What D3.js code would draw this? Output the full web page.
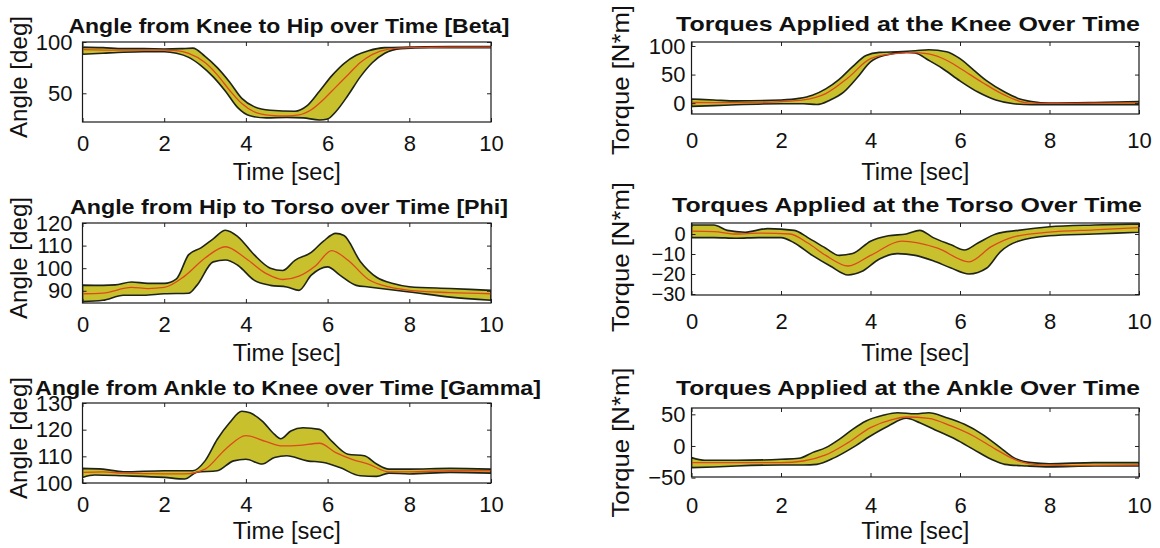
<!DOCTYPE html>
<html>
<head>
<meta charset="utf-8">
<script src="https://cdn.jsdelivr.net/npm/d3@7"></script>
<style>
  body { margin: 0; background: #fff; }
  svg { display: block; }
  text { font-family: "Liberation Sans", Arial, Helvetica, sans-serif; fill: #111; }
</style>
</head>
<body>
<svg id="chart" width="1160" height="548"></svg>
<script>
// ---- data: [time (s), value] pairs for each envelope and mean curve ----
const timeTicks = [0, 2, 4, 6, 8, 10];

// Beta: knee-to-hip angle [deg]
const betaUpper = [[0,95],[0.5,94.5],[1,93.5],[1.5,93.5],[2,93.2],[2.4,93.5],[2.7,94],[3,86],[3.3,75],[3.6,61],[3.9,45],[4.2,37],[4.6,33.5],[5.2,32.5],[5.5,38],[5.8,52],[6.1,67],[6.4,79],[6.7,87],[7,91.5],[7.4,94.5],[8,95],[9,95.5],[10,95.5]];
const betaMean  = [[0,92.5],[1,92],[2,92],[2.3,91.5],[2.6,89],[3,80],[3.3,68],[3.6,53],[3.9,40],[4.2,32],[4.6,28.5],[5,28],[5.3,29],[5.6,34],[5.9,44],[6.2,56],[6.5,68],[6.8,80],[7.1,88],[7.5,93],[8,94.5],[9,95],[10,95]];
const betaLower = [[0,88],[0.5,89],[1,90],[1.5,90.5],[2,90.5],[2.3,89],[2.6,85],[2.9,77],[3.2,66],[3.5,52],[3.8,36],[4.1,28],[4.5,26],[5,26.5],[5.4,26],[5.8,24],[6,25],[6.2,32],[6.5,48],[6.8,66],[7.1,80],[7.4,89],[7.8,93.5],[8.5,94.5],[10,94.5]];

// Phi: hip-to-torso angle [deg]
const phiUpper = [[0,92.5],[0.5,92.4],[0.8,92.6],[1.2,93.9],[1.6,93.3],[2,93.3],[2.3,95.3],[2.6,106],[2.9,109],[3.2,113],[3.5,116.8],[3.8,114],[4.2,106],[4.6,100],[4.9,99],[5.2,103.5],[5.6,107],[5.9,112],[6.2,115.4],[6.4,114.5],[6.8,103],[7.2,96],[7.6,93.2],[8,91.8],[9,91],[10,90.2]];
const phiMean  = [[0,88.7],[0.5,89],[1.2,91.5],[1.6,91],[2,91.5],[2.5,96.5],[3,104.5],[3.5,109.5],[4,104.3],[4.5,97.6],[4.9,95],[5.3,96.5],[5.7,101],[6.1,107.8],[6.5,103.5],[7,95],[7.5,91.7],[8,90.2],[9,89.2],[10,88.7]];
const phiLower = [[0,85.2],[0.5,85.8],[1,88],[1.5,88],[2,88.7],[2.6,88.9],[2.8,92.4],[3.2,102.8],[3.5,103.6],[3.8,101.3],[4.2,94.7],[4.6,92.4],[5,91.7],[5.3,90.2],[5.6,96.9],[6,100.6],[6.3,96.9],[6.7,92.4],[7,91.7],[8,89.5],[9,87.2],[10,85.8]];

// Gamma: ankle-to-knee angle [deg]
const gammaUpper = [[0,105.5],[0.5,105.2],[1,104.2],[2,104.6],[2.7,104.6],[3,108.3],[3.3,116.4],[3.6,122.6],[3.9,126.9],[4.1,126.3],[4.4,123.2],[4.7,118.2],[4.85,116.6],[5.1,119.5],[5.4,120.7],[5.8,120.1],[6.1,115.7],[6.5,110.8],[6.9,110.2],[7.2,107.1],[7.5,105.2],[8,105.2],[9,105.5],[10,105.2]];
const gammaMean  = [[0,104],[0.5,104.2],[1,103.7],[2,103.4],[2.5,103.4],[3,105.2],[3.5,112.7],[4,117.8],[4.5,115.5],[4.9,113.9],[5.3,114.1],[5.8,114.9],[6.2,111.4],[6.6,108.9],[7,107.1],[7.5,104.2],[8,104.2],[9,104.6],[10,104.6]];
const gammaLower = [[0,102.1],[0.3,103],[1,102.7],[2,102.1],[2.5,101.5],[2.8,104],[3.3,104.6],[3.7,108.3],[4,108.9],[4.4,107.1],[4.7,109.6],[5,110.2],[5.5,108.3],[5.9,107.7],[6.3,105.8],[6.8,102.7],[7.2,102.5],[7.5,103.7],[8,103.4],[9,104],[10,103.7]];

// Knee torque [N*m]
const kneeUpper = [[0,7.2],[0.5,5.5],[1,3.9],[2,5.6],[2.4,8.3],[2.7,13.9],[3,25],[3.3,41.7],[3.6,63.9],[3.9,83.3],[4.2,88.9],[4.6,90],[5,91.7],[5.3,93.5],[5.7,90],[6,77.8],[6.3,58.3],[6.6,38.9],[7,19.4],[7.3,8.3],[7.6,2.8],[8,0],[9,1],[10,2.8]];
const kneeMean  = [[0,1.1],[1,1],[2,2.8],[2.5,5.6],[3,16.7],[3.5,44.4],[4,77.8],[4.5,86.1],[4.9,88.9],[5.3,86.1],[5.7,75],[6,61.1],[6.5,36.1],[7,13.9],[7.5,0.5],[8,-0.5],[9,0],[10,0]];
const kneeLower = [[0,-5.6],[0.5,-4.4],[1,-2.8],[2,-1],[2.5,-1],[2.8,-2.5],[3.1,5.6],[3.4,19.4],[3.7,44.4],[4,72.2],[4.3,83.3],[4.8,88.9],[5,87.8],[5.3,75],[5.6,61.1],[6,38.9],[6.4,19.4],[6.8,5.6],[7.2,-1],[7.6,-2.8],[8,-2.8],[10,-2.8]];

// Torso torque [N*m]
const torsoUpper = [[0,4.5],[0.5,4.5],[0.8,1.8],[1.2,0.9],[1.7,2.7],[2.3,1.8],[2.6,-1.8],[3,-7.1],[3.3,-10.7],[3.6,-9.8],[4,-3.6],[4.4,-0.9],[4.8,0],[5.1,1.8],[5.4,-1.8],[5.8,-5.4],[6.1,-8],[6.4,-4.5],[6.8,0],[7.3,1.8],[8,3.6],[9,4.5],[10,5]];
const torsoMean  = [[0,1.4],[0.5,1.2],[1,0],[1.5,0.4],[2.2,0],[2.6,-4.5],[3,-10.7],[3.5,-16],[4,-10.7],[4.7,-3.6],[5.5,-7.1],[6.2,-13.9],[6.7,-6.3],[7.2,-1.4],[8,0.9],[9,2.1],[10,3.2]];
const torsoLower = [[0,-1.8],[0.5,-1.8],[1,-2.1],[1.5,-1.8],[2,-1.8],[2.3,-4.5],[2.7,-10.7],[3.1,-16],[3.5,-20.5],[3.8,-18.8],[4.2,-12.5],[4.6,-9.8],[5,-10.7],[5.4,-13.4],[5.8,-17],[6.2,-20],[6.6,-17],[6.9,-8.9],[7.3,-3.6],[8,-0.9],[9,0],[10,0.9]];

// Ankle torque [N*m]
const ankleUpper = [[0,-18.4],[0.3,-22.6],[1,-22.6],[2,-21],[2.4,-19.5],[2.7,-10.5],[3,-2.6],[3.3,10.5],[3.6,26.3],[3.9,39.5],[4.3,49],[4.6,52.6],[5,51],[5.3,52.6],[5.7,44.7],[6.1,34.2],[6.5,18.4],[6.9,-2.6],[7.2,-18.4],[7.6,-26.3],[8,-28],[9,-26.3],[10,-26.3]];
const ankleMean  = [[0,-26.3],[1,-26.3],[2,-26.3],[2.5,-23.7],[3,-14.2],[3.5,5.3],[4,28.9],[4.5,42.1],[4.8,45.8],[5.3,43.7],[5.8,31.6],[6.3,15.8],[6.8,-5.3],[7.3,-23.7],[7.8,-30],[8.5,-31],[10,-30]];
const ankleLower = [[0,-34.2],[0.5,-33.2],[1,-31.6],[2,-30],[2.5,-30],[2.8,-29],[3.2,-18.4],[3.6,-2.6],[4,15.8],[4.4,31.6],[4.8,43.7],[5.1,36.8],[5.5,23.7],[5.9,10.5],[6.3,-5.3],[6.7,-21],[7,-29],[7.5,-31.6],[8,-33],[9,-31.6],[10,-31.6]];

// y tick values per panel
const betaTicks  = [50, 100];
const phiTicks   = [90, 100, 110, 120];
const gammaTicks = [100, 110, 120, 130];
const kneeTicks  = [0, 50, 100];
const torsoTicks = [-30, -20, -10, 0];
const ankleTicks = [-50, 0, 50];

const panels = [
  { title: "Angle from Knee to Hip over Time [Beta]",     ylabel: "Angle [deg]",  upper: betaUpper,  mean: betaMean,  lower: betaLower,  domain: [22, 100],     ticks: betaTicks },
  { title: "Angle from Hip to Torso over Time [Phi]",     ylabel: "Angle [deg]",  upper: phiUpper,   mean: phiMean,   lower: phiLower,   domain: [84.6, 120],   ticks: phiTicks },
  { title: "Angle from Ankle to Knee over Time [Gamma]",  ylabel: "Angle [deg]",  upper: gammaUpper, mean: gammaMean, lower: gammaLower, domain: [100, 130],    ticks: gammaTicks },
  { title: "Torques Applied at the Knee Over Time",       ylabel: "Torque [N*m]", upper: kneeUpper,  mean: kneeMean,  lower: kneeLower,  domain: [-19, 107],    ticks: kneeTicks },
  { title: "Torques Applied at the Torso Over Time",      ylabel: "Torque [N*m]", upper: torsoUpper, mean: torsoMean, lower: torsoLower, domain: [-30.5, 5.5],  ticks: torsoTicks },
  { title: "Torques Applied at the Ankle Over Time",      ylabel: "Torque [N*m]", upper: ankleUpper, mean: ankleMean, lower: ankleLower, domain: [-49, 60],     ticks: ankleTicks }
];

// ---- layout of the 3x2 grid of axes ----
const layout = [
  { x0: 82.5,  x1: 491,  y0: 42,  y1: 122, titleX: 289, titleY: 33,  titleW: 441, yPad: 10, xPad: 13, ylabX: 27,  ylabShift: -5, ylabW: 122, xlabY: 180, tickFs: 22 },
  { x0: 82.5,  x1: 491,  y0: 223, y1: 303, titleX: 289, titleY: 214, titleW: 438, yPad: 10, xPad: 13, ylabX: 27,  ylabShift: -5, ylabW: 122, xlabY: 361, tickFs: 22 },
  { x0: 82.5,  x1: 491,  y0: 403, y1: 483, titleX: 288, titleY: 395, titleW: 506, yPad: 10, xPad: 13, ylabX: 27,  ylabShift: -5, ylabW: 122, xlabY: 539, tickFs: 22 },
  { x0: 691.5, x1: 1139, y0: 42,  y1: 114, titleX: 908, titleY: 31,  titleW: 464, yPad: 6,  xPad: 18, ylabX: 629, ylabShift: 2,  ylabW: 150, xlabY: 180, tickFs: 22 },
  { x0: 691.5, x1: 1139, y0: 223, y1: 295, titleX: 907, titleY: 212, titleW: 470, yPad: 6,  xPad: 18, ylabX: 629, ylabShift: -2, ylabW: 150, xlabY: 361, tickFs: 20 },
  { x0: 691.5, x1: 1139, y0: 408, y1: 477, titleX: 908, titleY: 395, titleW: 464, yPad: 6,  xPad: 20, ylabX: 629, ylabShift: 0,  ylabW: 150, xlabY: 539, tickFs: 22 }
];

const BAND_FILL = "#c8c02c";
const BAND_EDGE = "#1f2418";
const MEAN_COLOR = "#dc4a1e";

const svg = d3.select("#chart");

panels.forEach((p, i) => {
  const L = layout[i];
  const x = d3.scaleLinear().domain([0, 10]).range([L.x0, L.x1]);
  const y = d3.scaleLinear().domain(p.domain).range([L.y1, L.y0]);
  const g = svg.append("g");

  const clipId = "clip" + i;
  g.append("clipPath").attr("id", clipId)
    .append("rect").attr("x", L.x0).attr("y", L.y0)
    .attr("width", L.x1 - L.x0).attr("height", L.y1 - L.y0);

  // band = upper envelope forward, lower envelope backward, closed
  const line = d3.line().x(d => x(d[0])).y(d => y(d[1])).curve(d3.curveMonotoneX);
  const top = line(p.upper);
  const bottom = line(p.lower.slice().reverse());
  const bandPath = top + "L" + bottom.slice(1) + "Z";

  const plot = g.append("g").attr("clip-path", `url(#${clipId})`);
  plot.append("path").attr("d", bandPath)
    .attr("fill", BAND_FILL).attr("stroke", BAND_EDGE)
    .attr("stroke-width", 1.6).attr("stroke-linejoin", "round");
  plot.append("path").attr("d", line(p.mean))
    .attr("fill", "none").attr("stroke", MEAN_COLOR).attr("stroke-width", 1.3);

  // axes with inward ticks on all four sides
  const bottomAxis = d3.axisBottom(x).tickValues(timeTicks).tickFormat(d3.format("d"))
    .tickSizeInner(-4).tickSizeOuter(0).tickPadding(L.xPad);
  const leftAxis = d3.axisLeft(y).tickValues(p.ticks).tickFormat(d3.format("d"))
    .tickSizeInner(-4).tickSizeOuter(0).tickPadding(L.yPad);
  const topAxis = d3.axisTop(x).tickValues(timeTicks).tickFormat("")
    .tickSizeInner(-4).tickSizeOuter(0);
  const rightAxis = d3.axisRight(y).tickValues(p.ticks).tickFormat("")
    .tickSizeInner(-4).tickSizeOuter(0);

  const ax = [
    g.append("g").attr("transform", `translate(0,${L.y1})`).call(bottomAxis),
    g.append("g").attr("transform", `translate(${L.x0},0)`).call(leftAxis),
    g.append("g").attr("transform", `translate(0,${L.y0})`).call(topAxis),
    g.append("g").attr("transform", `translate(${L.x1},0)`).call(rightAxis)
  ];
  ax.forEach(a => {
    a.select(".domain").remove();
    a.selectAll(".tick line").attr("stroke", "#222").attr("stroke-width", 1);
    a.selectAll(".tick text").style("font-size", "22px").attr("fill", "#111");
  });
  ax[1].selectAll(".tick text").style("font-size", L.tickFs + "px");

  g.append("rect").attr("x", L.x0).attr("y", L.y0)
    .attr("width", L.x1 - L.x0).attr("height", L.y1 - L.y0)
    .attr("fill", "none").attr("stroke", "#1a1a1a").attr("stroke-width", 1.2);

  // titles and axis labels
  g.append("text").attr("x", L.titleX).attr("y", L.titleY)
    .attr("text-anchor", "middle").style("font-size", "21px").style("font-weight", "bold")
    .attr("textLength", L.titleW).attr("lengthAdjust", "spacingAndGlyphs")
    .text(p.title);

  g.append("text").attr("x", (L.x0 + L.x1) / 2).attr("y", L.xlabY)
    .attr("text-anchor", "middle").style("font-size", "23px")
    .attr("textLength", 108).attr("lengthAdjust", "spacingAndGlyphs")
    .text("Time [sec]");

  const cy = (L.y0 + L.y1) / 2 + L.ylabShift;
  g.append("text")
    .attr("transform", `translate(${L.ylabX},${cy}) rotate(-90)`)
    .attr("text-anchor", "middle").style("font-size", "24px")
    .attr("textLength", L.ylabW).attr("lengthAdjust", "spacingAndGlyphs")
    .text(p.ylabel);
});
</script>
</body>
</html>
